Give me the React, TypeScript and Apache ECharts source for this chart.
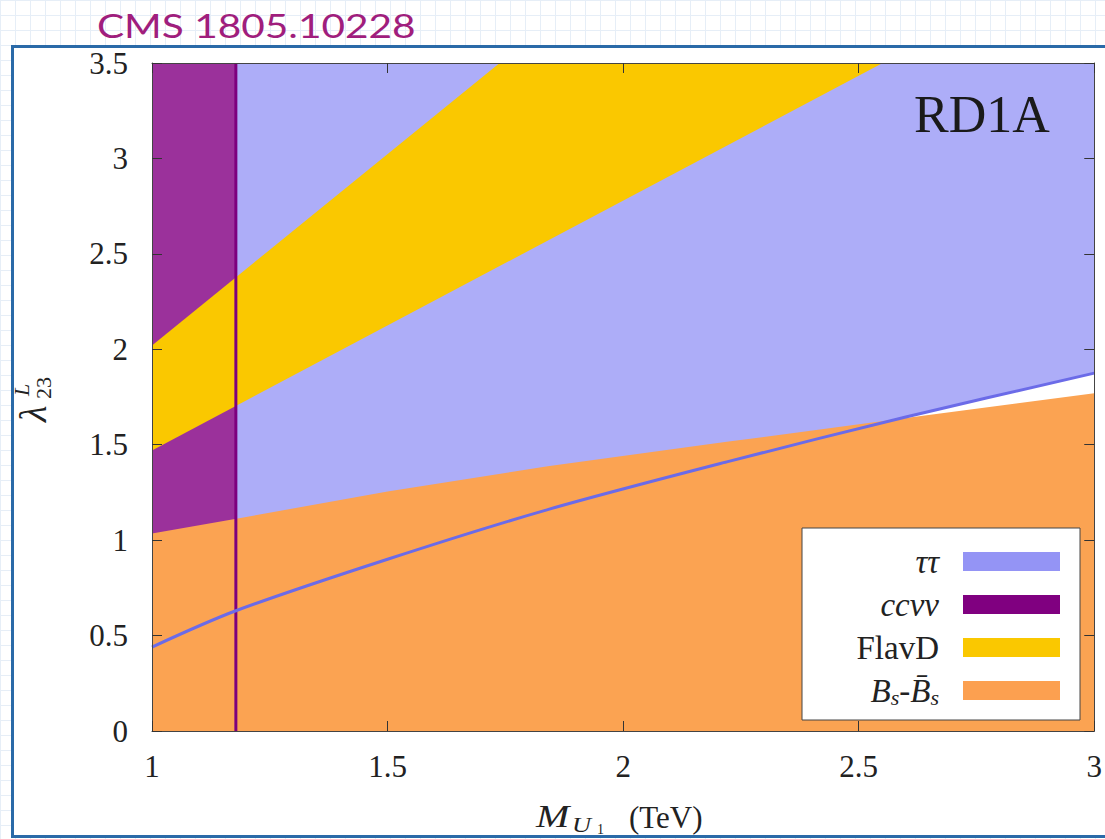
import React, { useEffect, useRef } from 'react';
import * as echarts from 'echarts';

// Axis ranges / ticks
const xRange = [1, 3];
const yRange = [0, 3.5];
const tickStep = 0.5;

// ττ exclusion boundary: the region above this curve is excluded
const tautauBoundary: number[][] = [
  [1.0, 0.44],
  [1.178, 0.63],
  [1.5, 0.9],
  [1.84, 1.16],
  [2.22, 1.41],
  [2.6, 1.645],
  [3.0, 1.875],
];

// Bs–B̄s mixing: the region below this boundary is excluded
const bsMixBoundary: number[][] = [
  [1.0, 1.035],
  [1.185, 1.115],
  [1.5, 1.255],
  [1.84, 1.387],
  [2.22, 1.515],
  [2.6, 1.64],
  [3.0, 1.77],
];

// FlavD band edges
const flavDLower: number[][] = [
  [1.0, 1.47],
  [2.551, 3.5],
];
const flavDUpper: number[][] = [
  [1.0, 2.02],
  [1.738, 3.5],
];

// ccνν lower mass bound (TeV)
const ccnunuBound = 1.178;

const legendNames = ['ττ', 'ccνν', 'FlavD', 'Bs-B̄s'];
const legendColors = ['#9494f5', '#800080', '#fac800', '#fca050'];

const SERIF = '"Liberation Serif", "Times New Roman", serif';

const flavDPolygon = [...flavDLower, ...flavDUpper.slice().reverse()];

function buildOption() {
  const axisCommon = {
    type: 'value' as const,
    interval: tickStep,
    z: 12,
    splitLine: { show: false },
    axisLine: { show: true, onZero: false, lineStyle: { color: '#444', width: 1 } },
    axisTick: { show: true, inside: true, length: 10, lineStyle: { color: '#333', width: 1 } },
  };
  const labelStyle = { fontFamily: SERIF, fontSize: 31, color: '#222' };

  const legendLabels: Record<string, string> = {
    'ττ': '{it|ττ}{gap| }',
    'ccνν': '{it|ccνν}{gap| }',
    'FlavD': '{rm|FlavD}{gap| }',
    'Bs-B̄s': '{it|B}{sub|s}{rm|-}{it|B̄}{sub|s}{gap| }',
  };

  return {
    animation: false,
    grid: { left: 152, top: 63, right: 4, bottom: 108 },
    xAxis: [
      {
        ...axisCommon,
        min: xRange[0],
        max: xRange[1],
        position: 'bottom',
        axisLabel: { ...labelStyle, margin: 20 },
      },
      {
        ...axisCommon,
        min: xRange[0],
        max: xRange[1],
        position: 'top',
        axisLabel: { show: false },
      },
    ],
    yAxis: [
      {
        ...axisCommon,
        min: yRange[0],
        max: yRange[1],
        position: 'left',
        axisLabel: { ...labelStyle, margin: 24 },
      },
      {
        ...axisCommon,
        min: yRange[0],
        max: yRange[1],
        position: 'right',
        axisLabel: { show: false },
      },
    ],
    legend: {
      orient: 'vertical',
      right: 45,
      top: 545,
      padding: 0,
      itemGap: 10,
      itemWidth: 97,
      itemHeight: 19,
      icon: 'rect',
      align: 'right',
      selectedMode: false,
      z: 25,
      data: legendNames.map((n, i) => ({ name: n, itemStyle: { color: legendColors[i], borderWidth: 0 } })),
      formatter: (name: string) => legendLabels[name] ?? name,
      textStyle: {
        fontFamily: SERIF,
        fontSize: 33,
        color: '#222',
        rich: {
          it: { fontFamily: SERIF, fontStyle: 'italic', fontSize: 33, lineHeight: 36, color: '#222' },
          rm: { fontFamily: SERIF, fontSize: 33, lineHeight: 36, color: '#222' },
          sub: {
            fontFamily: SERIF,
            fontStyle: 'italic',
            fontSize: 22,
            lineHeight: 22,
            verticalAlign: 'bottom',
            color: '#222',
          },
          gap: { width: 19, fontSize: 30, lineHeight: 36 },
        },
      },
    },
    series: [
      {
        name: 'ττ',
        type: 'line',
        data: tautauBoundary,
        smooth: 0.3,
        symbol: 'none',
        silent: true,
        z: 1,
        color: legendColors[0],
        lineStyle: { width: 0 },
        areaStyle: { origin: 'end', color: '#adadf8', opacity: 1 },
      },
      {
        name: 'ccνν',
        type: 'line',
        data: [
          [xRange[0], yRange[1]],
          [ccnunuBound, yRange[1]],
        ],
        symbol: 'none',
        silent: true,
        z: 2,
        color: legendColors[1],
        lineStyle: { width: 0 },
        areaStyle: { origin: 'start', color: '#9b319b', opacity: 1 },
      },
      {
        name: 'Bs-B̄s',
        type: 'line',
        data: bsMixBoundary,
        symbol: 'none',
        silent: true,
        z: 3,
        color: legendColors[3],
        lineStyle: { width: 0 },
        areaStyle: { origin: 'start', color: '#fba352', opacity: 1 },
      },
      {
        name: 'FlavD',
        type: 'custom',
        data: flavDPolygon,
        encode: { x: 0, y: 1 },
        silent: true,
        z: 4,
        color: legendColors[2],
        renderItem: (params: any, api: any) => {
          if (params.dataIndex !== 0) return null;
          const pts = flavDPolygon.map((p) => api.coord(p));
          return { type: 'polygon', shape: { points: pts }, style: { fill: '#fac800' } };
        },
      },
      {
        name: 'ccνν bound',
        type: 'line',
        data: [
          [ccnunuBound, yRange[0]],
          [ccnunuBound, yRange[1]],
        ],
        symbol: 'none',
        silent: true,
        z: 5,
        lineStyle: { color: '#7d007d', width: 3 },
      },
      {
        name: 'ττ boundary',
        type: 'line',
        data: tautauBoundary,
        smooth: 0.3,
        symbol: 'none',
        silent: true,
        z: 6,
        lineStyle: { color: '#6b6be8', width: 3 },
      },
    ],
    graphic: {
      elements: [
        {
          type: 'text',
          x: 97,
          y: 25,
          scaleX: 1.23,
          z: 30,
          style: {
            text: 'CMS 1805.10228',
            font: '33px Lato, "Noto Sans", sans-serif',
            fill: '#a01e7d',
            align: 'left',
            verticalAlign: 'middle',
          },
        },
        {
          type: 'rect',
          z: 15,
          shape: { x: 802, y: 528, width: 278, height: 192 },
          style: { fill: '#ffffff', stroke: '#444', lineWidth: 1 },
        },
        {
          type: 'text',
          x: 982,
          y: 114,
          z: 30,
          style: {
            text: 'RD1A',
            font: `52px ${SERIF}`,
            fill: '#1a1a1a',
            align: 'center',
            verticalAlign: 'middle',
          },
        },
        // y-axis title: λ^L_23, rotated
        {
          type: 'group',
          x: 32,
          y: 400,
          rotation: Math.PI / 2,
          children: [
            {
              type: 'text',
              x: -22,
              y: 1,
              z: 30,
              style: { text: 'λ', font: `italic 38px ${SERIF}`, fill: '#222', align: 'left', verticalAlign: 'middle' },
            },
            {
              type: 'text',
              x: 4,
              y: -11,
              z: 30,
              style: { text: 'L', font: `italic 22px ${SERIF}`, fill: '#222', align: 'left', verticalAlign: 'middle' },
            },
            {
              type: 'text',
              x: 1,
              y: 11,
              z: 30,
              style: { text: '23', font: `22px ${SERIF}`, fill: '#222', align: 'left', verticalAlign: 'middle' },
            },
          ],
        },
        // x-axis title: M_{U_1} (TeV)
        {
          type: 'text',
          x: 536,
          y: 816,
          scaleX: 1.25,
          z: 30,
          style: { text: 'M', font: `italic 32px ${SERIF}`, fill: '#222', align: 'left', verticalAlign: 'middle' },
        },
        {
          type: 'text',
          x: 572,
          y: 824,
          scaleX: 1.2,
          z: 30,
          style: { text: 'U', font: `italic 22px ${SERIF}`, fill: '#222', align: 'left', verticalAlign: 'middle' },
        },
        {
          type: 'text',
          x: 597,
          y: 829,
          z: 30,
          style: { text: '1', font: `14px ${SERIF}`, fill: '#222', align: 'left', verticalAlign: 'middle' },
        },
        {
          type: 'text',
          x: 629,
          y: 817,
          z: 30,
          style: { text: '(TeV)', font: `31px ${SERIF}`, fill: '#222', align: 'left', verticalAlign: 'middle' },
        },
      ],
    },
  };
}

export default function App() {
  const ref = useRef<HTMLDivElement>(null);

  useEffect(() => {
    if (!ref.current) return;
    const chart = echarts.init(ref.current, null, { renderer: 'svg' });
    chart.setOption(buildOption() as any);
    return () => chart.dispose();
  }, []);

  return (
    <div
      style={{
        position: 'absolute',
        left: 0,
        top: 0,
        width: 1105,
        height: 839,
        overflow: 'hidden',
        backgroundColor: '#ffffff',
        backgroundImage:
          'linear-gradient(to right, #e6eef7 1px, transparent 1px), linear-gradient(to bottom, #e6eef7 1px, transparent 1px)',
        backgroundSize: '15px 15px',
      }}
    >
      <div
        style={{
          position: 'absolute',
          left: 11,
          top: 45,
          width: 1105,
          height: 787,
          border: '3px solid #2a6aa8',
          background: '#ffffff',
        }}
      />
      <div ref={ref} style={{ position: 'absolute', left: 0, top: 0, width: 1105, height: 839 }} />
    </div>
  );
}
